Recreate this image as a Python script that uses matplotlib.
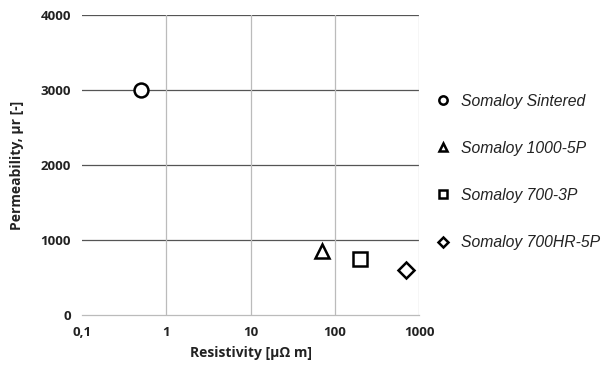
import matplotlib
matplotlib.use("Agg")
import matplotlib.pyplot as plt
from matplotlib.ticker import FixedLocator, NullLocator

names = ["Somaloy Sintered", "Somaloy 1000-5P", "Somaloy 700-3P", "Somaloy 700HR-5P"]
resistivity = [0.5, 70, 200, 700]
permeability = [3000, 850, 750, 600]
markers = ["o", "^", "s", "D"]
x_ticks = [0.1, 1, 10, 100, 1000]
x_ticklabels = ["0,1", "1", "10", "100", "1000"]
y_ticks = [0, 1000, 2000, 3000, 4000]

fig = plt.figure(figsize=(6.08, 3.66), dpi=100)
ax = fig.add_axes([82/608, 1-315/366, (419-82)/608, 300/366])

for n, x, y, m in zip(names, resistivity, permeability, markers):
    ax.plot([x], [y], linestyle="none", marker=m, markersize=10 if m != "D" else 8,
            markerfacecolor="white", markeredgecolor="black", markeredgewidth=1.8,
            label=n, zorder=5)

ax.set_xscale("log")
ax.set_xlim(0.1, 1000)
ax.set_ylim(0, 4000)
ax.xaxis.set_major_locator(FixedLocator(x_ticks))
ax.xaxis.set_minor_locator(NullLocator())
ax.set_xticklabels(x_ticklabels)
ax.set_yticks(y_ticks)

for v in y_ticks[1:]:
    ax.axhline(v, color="#555555", lw=0.9, zorder=1)
for v in x_ticks[1:]:
    ax.axvline(v, color="#bbbbbb", lw=0.9, zorder=1)

for sp in ["top", "right", "left"]:
    ax.spines[sp].set_visible(False)
ax.spines["bottom"].set_color("#bbbbbb")
ax.spines["bottom"].set_linewidth(0.9)
ax.tick_params(length=0, pad=8)
for lab in ax.get_xticklabels() + ax.get_yticklabels():
    lab.set_fontweight("bold")
    lab.set_fontsize(9.5)
    lab.set_family("Open Sans")
    lab.set_color("#222222")

ax.set_xlabel("Resistivity [µΩ m]", fontsize=10, fontweight="bold", family="Open Sans", color="#222222", labelpad=5)
ax.set_ylabel("Permeability, µr [-]", fontsize=10, fontweight="bold", family="Open Sans", color="#222222", labelpad=12)

leg = ax.legend(loc="upper left", bbox_to_anchor=(1.005, 0.785), frameon=False,
                markerscale=0.6, labelspacing=2.05, handletextpad=0.7, handlelength=1.0,
                prop={"family": "Liberation Sans", "style": "italic", "size": 11.3})
for t in leg.get_texts():
    t.set_color("#222222")

fig.savefig("out.png", dpi=100)
